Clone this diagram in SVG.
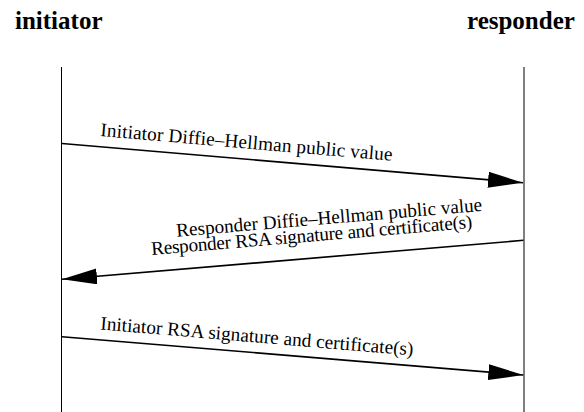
<svg xmlns="http://www.w3.org/2000/svg" width="584" height="412" viewBox="0 0 584 412">
<style>
text{font-family:'Liberation Serif','Times New Roman',Times,serif;fill:#000}
.title{font-weight:bold;font-size:25px}
.lbl{font-size:19.2px}
.life{stroke:#000;stroke-width:1;fill:none}
.msg{stroke:#000;stroke-width:1.6;fill:none;marker-end:url(#ah)}
</style>
<defs>
<marker id="ah" markerUnits="userSpaceOnUse" markerWidth="36" markerHeight="18" refX="35" refY="8" orient="auto" viewBox="0 0 36 18">
<path d="M0,0 L35,8 L0,16 z" fill="#000"/>
</marker>
</defs>
<g id="initiator">
<text class="title" x="15" y="29">initiator</text>
<line class="life" x1="61.5" y1="67" x2="61.5" y2="412"/>
</g>
<g id="responder">
<text class="title" x="467" y="29">responder</text>
<line class="life" x1="524" y1="67" x2="524" y2="412"/>
</g>
<g id="connectors">
<line class="msg" x1="62" y1="143.5" x2="523" y2="182.7"/>
<line class="msg" x1="523.5" y1="240.3" x2="62" y2="279.3"/>
<line class="msg" x1="62" y1="336.7" x2="523.3" y2="375"/>
</g>
<g id="labels">
<text class="lbl" transform="translate(100,136) rotate(4.86)" textLength="293" lengthAdjust="spacing">Initiator Diffie–Hellman public value</text>
<text class="lbl" transform="translate(176.7,236.7) rotate(-4.83)" textLength="307" lengthAdjust="spacing">Responder Diffie–Hellman public value</text>
<text class="lbl" transform="translate(151.7,255) rotate(-4.83)" textLength="322" lengthAdjust="spacing">Responder RSA signature and certificate(s)</text>
<text class="lbl" transform="translate(100,329.5) rotate(4.75)" textLength="314" lengthAdjust="spacing">Initiator RSA signature and certificate(s)</text>
</g>
</svg>
